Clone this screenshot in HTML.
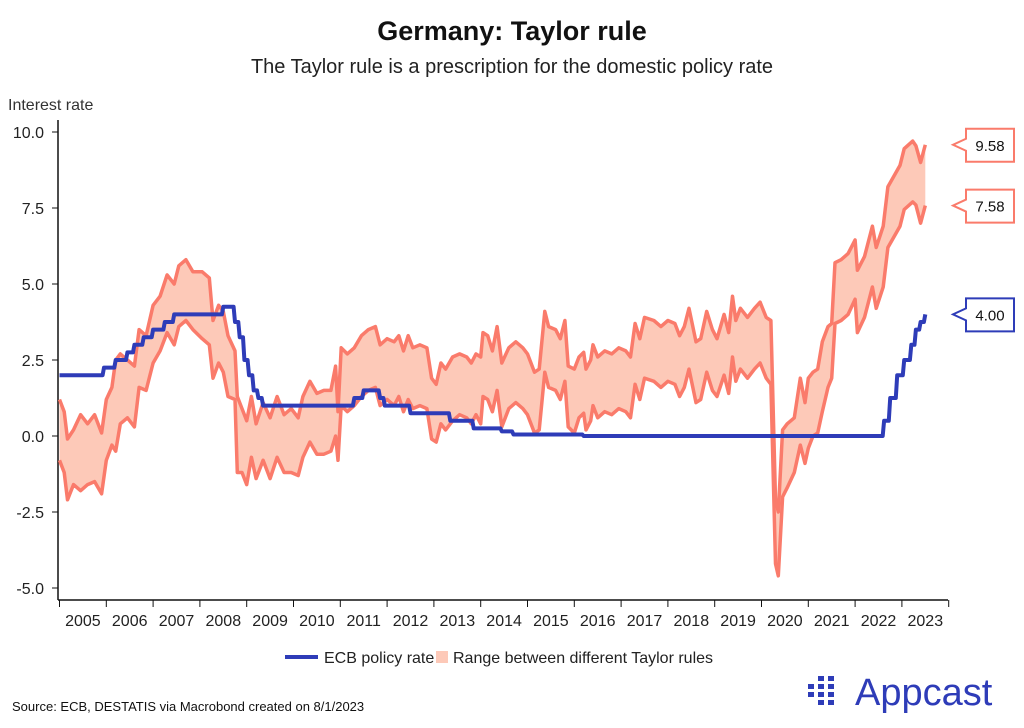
<!DOCTYPE html>
<html><head><meta charset="utf-8">
<style>
body{margin:0;background:#fff;font-family:"Liberation Sans",sans-serif;}
#wrap{position:relative;width:1024px;height:728px;overflow:hidden;}
</style></head>
<body>
<div id="wrap">
<svg id="chart" width="1024" height="728" xmlns="http://www.w3.org/2000/svg">
  <text x="512" y="40" text-anchor="middle" font-size="27" font-weight="bold" fill="#111">Germany: Taylor rule</text>
  <text x="512" y="73" text-anchor="middle" font-size="20" fill="#222">The Taylor rule is a prescription for the domestic policy rate</text>
  <text x="8" y="110" font-size="16" fill="#333">Interest rate</text>
  <g id="axes"></g>
  <g id="marks"></g>
  <g>
    <line x1="285" y1="657" x2="318" y2="657" stroke="#2e3cb8" stroke-width="4"/>
    <text x="324" y="663" font-size="16" fill="#222">ECB policy rate</text>
    <rect x="436" y="651" width="12" height="12" fill="#fdc9b8"/>
    <text x="453" y="663" font-size="16" fill="#222">Range between different Taylor rules</text>
  </g>
  <text x="12" y="711" font-size="13" fill="#111">Source: ECB, DESTATIS via Macrobond created on 8/1/2023</text>
  <g id="logo"></g>
  <text x="855" y="705" font-size="38" fill="#2e3cb8">Appcast</text>
</svg>
</div>
<script>
const dates=[2005.0,2005.1,2005.17,2005.3,2005.45,2005.6,2005.75,2005.9,2006.0,2006.12,2006.2,2006.3,2006.45,2006.6,2006.7,2006.85,2007.0,2007.15,2007.3,2007.45,2007.55,2007.7,2007.85,2008.05,2008.2,2008.28,2008.4,2008.5,2008.6,2008.75,2008.8,2008.9,2009.0,2009.1,2009.2,2009.35,2009.5,2009.65,2009.8,2009.95,2010.1,2010.2,2010.35,2010.5,2010.65,2010.8,2010.9,2010.95,2011.02,2011.15,2011.3,2011.45,2011.6,2011.75,2011.85,2012.0,2012.15,2012.25,2012.35,2012.45,2012.55,2012.7,2012.85,2012.95,2013.05,2013.15,2013.25,2013.4,2013.55,2013.7,2013.8,2013.9,2014.0,2014.05,2014.15,2014.25,2014.35,2014.45,2014.6,2014.75,2014.9,2015.0,2015.15,2015.25,2015.37,2015.45,2015.6,2015.7,2015.8,2015.87,2016.0,2016.1,2016.2,2016.25,2016.35,2016.4,2016.5,2016.65,2016.8,2016.95,2017.1,2017.2,2017.3,2017.4,2017.5,2017.7,2017.85,2018.0,2018.15,2018.25,2018.35,2018.45,2018.6,2018.7,2018.83,2018.95,2019.05,2019.2,2019.3,2019.38,2019.45,2019.55,2019.7,2019.85,2019.97,2020.1,2020.2,2020.3,2020.36,2020.45,2020.55,2020.7,2020.83,2020.93,2021.0,2021.1,2021.2,2021.3,2021.42,2021.5,2021.57,2021.7,2021.85,2022.0,2022.05,2022.2,2022.37,2022.45,2022.6,2022.7,2022.96,2023.05,2023.23,2023.3,2023.4,2023.5];
const upper=[1.2,0.8,-0.1,0.2,0.7,0.4,0.7,0.1,1.2,1.6,2.5,2.7,2.5,2.3,3.5,3.3,4.3,4.6,5.3,5.0,5.6,5.8,5.4,5.4,5.2,3.8,4.3,4.1,3.3,2.8,1.3,0.9,0.5,1.3,0.4,1.1,0.6,1.3,0.7,0.9,0.6,1.3,1.8,1.4,1.5,1.5,2.3,0.8,2.9,2.7,2.9,3.3,3.5,3.6,3.0,3.2,3.1,3.3,2.8,3.3,2.9,3.0,2.9,1.9,1.7,2.4,2.2,2.6,2.7,2.6,2.4,2.7,2.6,3.4,3.3,2.8,3.6,2.4,2.9,3.1,2.9,2.7,2.1,2.2,4.1,3.6,3.5,3.2,3.8,2.3,2.2,2.6,2.75,2.2,2.5,3.0,2.6,2.8,2.7,2.9,2.8,2.6,3.7,3.2,3.9,3.8,3.6,3.8,3.7,3.3,3.6,4.2,3.1,3.2,4.1,3.5,3.2,4.0,3.4,4.6,3.8,4.2,3.9,4.2,4.4,3.9,3.8,-2.1,-2.5,0.2,0.4,0.6,1.9,1.1,1.9,2.1,2.2,3.1,3.6,3.7,5.7,5.8,6.0,6.45,5.45,5.9,6.9,6.2,6.9,8.2,8.9,9.45,9.7,9.55,9.0,9.58];
const lower=[-0.8,-1.2,-2.1,-1.6,-1.8,-1.6,-1.5,-1.9,-0.8,-0.3,-0.5,0.4,0.6,0.3,1.6,1.5,2.4,2.8,3.4,3.0,3.6,3.8,3.5,3.2,3.0,1.9,2.4,2.1,1.3,1.2,-1.2,-1.2,-1.6,-0.7,-1.4,-0.8,-1.4,-0.7,-1.2,-1.2,-1.3,-0.7,-0.2,-0.6,-0.6,-0.5,0.0,-0.8,1.0,0.8,1.0,1.3,1.5,1.6,1.0,1.2,1.0,1.3,0.8,1.2,0.9,1.0,0.9,-0.1,-0.2,0.4,0.2,0.5,0.7,0.6,0.4,0.7,0.4,1.3,1.2,0.8,1.5,0.3,0.9,1.1,0.9,0.7,0.1,0.2,2.1,1.6,1.5,1.2,1.8,0.3,0.1,0.6,0.75,0.2,0.5,1.0,0.6,0.8,0.7,0.9,0.8,0.6,1.7,1.2,1.9,1.8,1.6,1.8,1.7,1.3,1.6,2.2,1.1,1.2,2.1,1.5,1.3,2.0,1.4,2.6,1.8,2.2,1.9,2.2,2.4,1.9,1.7,-4.2,-4.6,-2.0,-1.7,-1.2,-0.3,-0.9,-0.4,0.0,0.1,0.8,1.6,1.9,3.7,3.8,4.0,4.5,3.4,3.9,4.9,4.2,4.9,6.2,6.9,7.45,7.7,7.6,7.0,7.58];
const ecbDates=[2005.0,2005.95,2006.2,2006.45,2006.6,2006.8,2007.0,2007.25,2007.45,2008.5,2008.75,2008.85,2008.95,2009.05,2009.15,2009.25,2009.35,2011.3,2011.5,2011.85,2011.95,2012.5,2013.35,2013.85,2014.45,2014.7,2016.2,2022.55,2022.62,2022.75,2022.9,2023.05,2023.2,2023.3,2023.4,2023.5];
const ecbRate=[2.0,2.25,2.5,2.75,3.0,3.25,3.5,3.75,4.0,4.25,3.75,3.25,2.5,2.0,1.5,1.25,1.0,1.25,1.5,1.25,1.0,0.75,0.5,0.25,0.15,0.05,0.0,0.0,0.5,1.25,2.0,2.5,3.0,3.5,3.75,4.0];
const yTicks=[10,7.5,5,2.5,0,-2.5,-5];
const yTickLabels=["10.0","7.5","5.0","2.5","0.0","-2.5","-5.0"];
const years=[2005,2006,2007,2008,2009,2010,2011,2012,2013,2014,2015,2016,2017,2018,2019,2020,2021,2022,2023];
const calloutValues=[9.58,7.58,4.00];

const NS="http://www.w3.org/2000/svg";
const X=t=>59.5+(t-2005)*46.8;
const Y=v=>436-v*30.4;
function mk(tag,attrs,parent){const e=document.createElementNS(NS,tag);for(const k in attrs)e.setAttribute(k,attrs[k]);parent.appendChild(e);return e;}
const axes=document.getElementById('axes'), marks=document.getElementById('marks');

// axes
let a=mk('line',{x1:58,y1:120,x2:58,y2:600,stroke:'#111','stroke-width':1.5},axes);


a=mk('line',{x1:58,y1:600,x2:948,y2:600,stroke:'#111','stroke-width':1.5},axes);


yTicks.forEach((v,i)=>{
  const t=mk('line',{x1:52,y1:Y(v),x2:58,y2:Y(v),stroke:'#111','stroke-width':1},axes);
  
  
  const l=mk('text',{x:44,y:Y(v)+6,'text-anchor':'end','font-size':16,fill:'#222'},axes);
  l.textContent=yTickLabels[i];
  
  
});
years.forEach(yr=>{
  const t=mk('line',{x1:X(yr),y1:600,x2:X(yr),y2:607,stroke:'#111','stroke-width':1},axes);
  
  
  const l=mk('text',{x:X(yr+0.5),y:626,'text-anchor':'middle','font-size':16,fill:'#222'},axes);
  l.textContent=String(yr);
  
  
});
const t=mk('line',{x1:X(2024),y1:600,x2:X(2024),y2:607,stroke:'#111','stroke-width':1},axes);



// band
let up=dates.map((d,i)=>X(d).toFixed(1)+','+Y(upper[i]).toFixed(1));
let lo=dates.map((d,i)=>X(d).toFixed(1)+','+Y(lower[i]).toFixed(1)).reverse();
const band=mk('polygon',{points:up.concat(lo).join(' '),fill:'#fdc9b8'},marks);


const ul=mk('polyline',{points:up.join(' '),fill:'none',stroke:'#fa7b6b','stroke-width':3.5,'stroke-linejoin':'round'},marks);


const ll=mk('polyline',{points:lo.slice().reverse().join(' '),fill:'none',stroke:'#fa7b6b','stroke-width':3.5,'stroke-linejoin':'round'},marks);



// ECB steps
let pts=[];
ecbDates.forEach((d,i)=>{
  if(i>0){pts.push(X(d-0.03).toFixed(1)+','+Y(ecbRate[i-1]).toFixed(1));}
  pts.push(X(d).toFixed(1)+','+Y(ecbRate[i]).toFixed(1));
});
const ecb=mk('polyline',{points:pts.join(' '),fill:'none',stroke:'#2e3cb8','stroke-width':4,'stroke-linejoin':'round'},marks);



// callouts
const cColors=['#fa7b6b','#fa7b6b','#2e3cb8'];
calloutValues.forEach((v,i)=>{
  const cy=Y(v), c=cColors[i];
  const g=mk('g',{},marks);
  
  
  mk('path',{d:`M966,${cy-16} H1014 V${cy+17} H966 V${cy+6} L953,${cy} L966,${cy-6} Z`,fill:'#fff',stroke:c,'stroke-width':2},g);
  const tx=mk('text',{x:990,y:cy+6,'text-anchor':'middle','font-size':15,fill:'#111'},g);
  tx.textContent=v.toFixed(2);
});

// logo dots
const logo=document.getElementById('logo');
const dotRows=[[0,1,1],[1,1,1],[1,1,1],[0,1,1]];
dotRows.forEach((row,r)=>row.forEach((on,c)=>{
  if(on){const d=mk('rect',{x:808+c*10,y:676+r*8,width:6,height:5,fill:'#2e3cb8'},logo);
  
  }
}));
</script>
</body></html>
